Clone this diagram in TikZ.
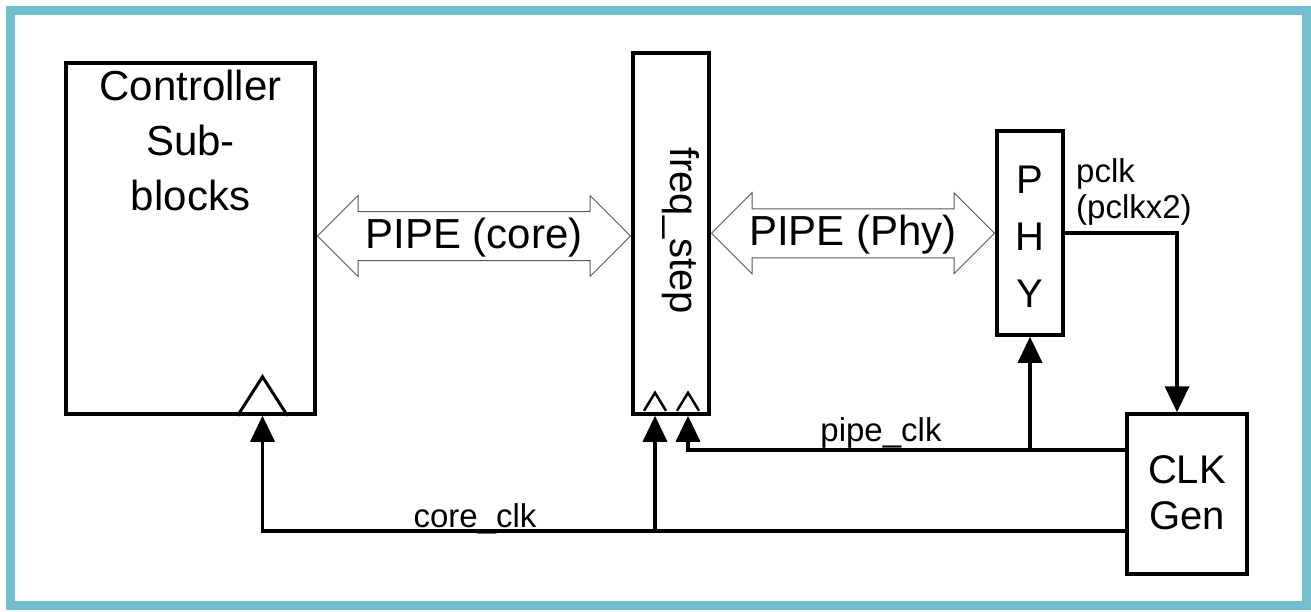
\documentclass[tikz,border=0pt]{standalone}
\usepackage{fontspec}
\setmainfont{Liberation Sans}
\usetikzlibrary{arrows.meta,positioning,calc,shapes.arrows}
\definecolor{frameteal}{RGB}{114,191,207}

\begin{document}
\begin{tikzpicture}[
    x=1pt, y=-1pt,
    blk/.style={draw, line width=3.5pt, inner sep=0pt},
    boxtxt/.style={inner sep=0pt, align=center, font=\fontsize{40}{55}\selectfont},
    lbl/.style={inner sep=0pt, font=\fontsize{33}{36}\selectfont},
    clk/.style={-{Triangle[length=26pt,width=24pt]}, line width=3.5pt},
    pipe/.style={double arrow, draw=black!65, line width=1pt, fill=white,
      double arrow head extend=16pt, inner xsep=0pt, inner ysep=5pt,
      text height=31pt, text depth=7pt, font=\fontsize{42}{48}\selectfont}
  ]
    \useasboundingbox (0,0) rectangle (1311,611);
    \draw[frameteal, line width=9pt] (10.5,10.5) rectangle (1306.5,605.5);

    % blocks
    \node[blk, minimum width=249pt, minimum height=351pt] (ctrl) at (190.5,238.5) {};
    \node[boxtxt, anchor=north, font=\fontsize{42}{55}\selectfont] (ctrltxt) at ($(ctrl.north)+(0,9)$) {Controller\\Sub-\\blocks};
    \node[blk, minimum width=76pt, minimum height=361pt] (fstep) at (671,233.5) {};
    \node[boxtxt, rotate=-90] (fsteptxt) at ($(fstep.center)+(10,-3)$) {freq\_step};
    \node[blk, minimum width=66pt, minimum height=204pt] (phy) at (1030,233) {};
    \node[boxtxt, anchor=north, font=\fontsize{40}{57}\selectfont] (phytxt) at ($(phy.north)+(0,37)$) {P\\H\\Y};
    \node[blk, minimum width=120pt, minimum height=160pt] (clk) at (1187,494) {};
    \node[boxtxt, anchor=north, font=\fontsize{40}{46}\selectfont] (clktxt) at ($(clk.north)+(0,43)$) {CLK\\Gen};

    % pipe interfaces
    \node[pipe, minimum height=313pt] (pcore) at ($(ctrl.east)!0.5!(fstep.west)$) {PIPE (core)};
    \node[pipe, minimum height=283pt] (pphy) at ($(fstep.east)!0.5!(phy.west)$) {PIPE (Phy)};

    % clock inputs
    \coordinate (ckin) at ([xshift=72pt]ctrl.south);
    \coordinate (fsa) at ([xshift=-16pt]fstep.south);
    \coordinate (fsb) at ([xshift=17pt]fstep.south);
    \draw[line width=3pt] ($(ckin)+(-25,0)$) -- ($(ckin)+(0,-39)$) -- ($(ckin)+(25,0)$);
    \foreach \dx in {-16,17}
      \draw[line width=2.5pt] ($(fstep.south)+(\dx-11,-5)$) -- ($(fstep.south)+(\dx,-23)$) -- ($(fstep.south)+(\dx+11,-5)$);

    % clocks
    \coordinate (coreo) at ([yshift=-37pt]clk.west);
    \coordinate (pipeo) at ([yshift=44pt]clk.west);
    \draw[clk] (coreo) -| (ckin);
    \draw[clk] (coreo -| fsa) -- (fsa);
    \draw[clk] (pipeo) -| (fsb);
    \draw[clk] (pipeo -| phy.south) -- (phy.south);
    \draw[clk] (phy.east) -| ([xshift=-10pt]clk.north);

    \node[lbl, anchor=base] (corelbl) at (475,527) {core\_clk};
    \node[lbl, anchor=base] (pipelbl) at (881,441) {pipe\_clk};
    \node[lbl, align=left, anchor=north west] (pclklbl) at (1076,158) {pclk\\(pclkx2)};
  \end{tikzpicture}
\end{document}
